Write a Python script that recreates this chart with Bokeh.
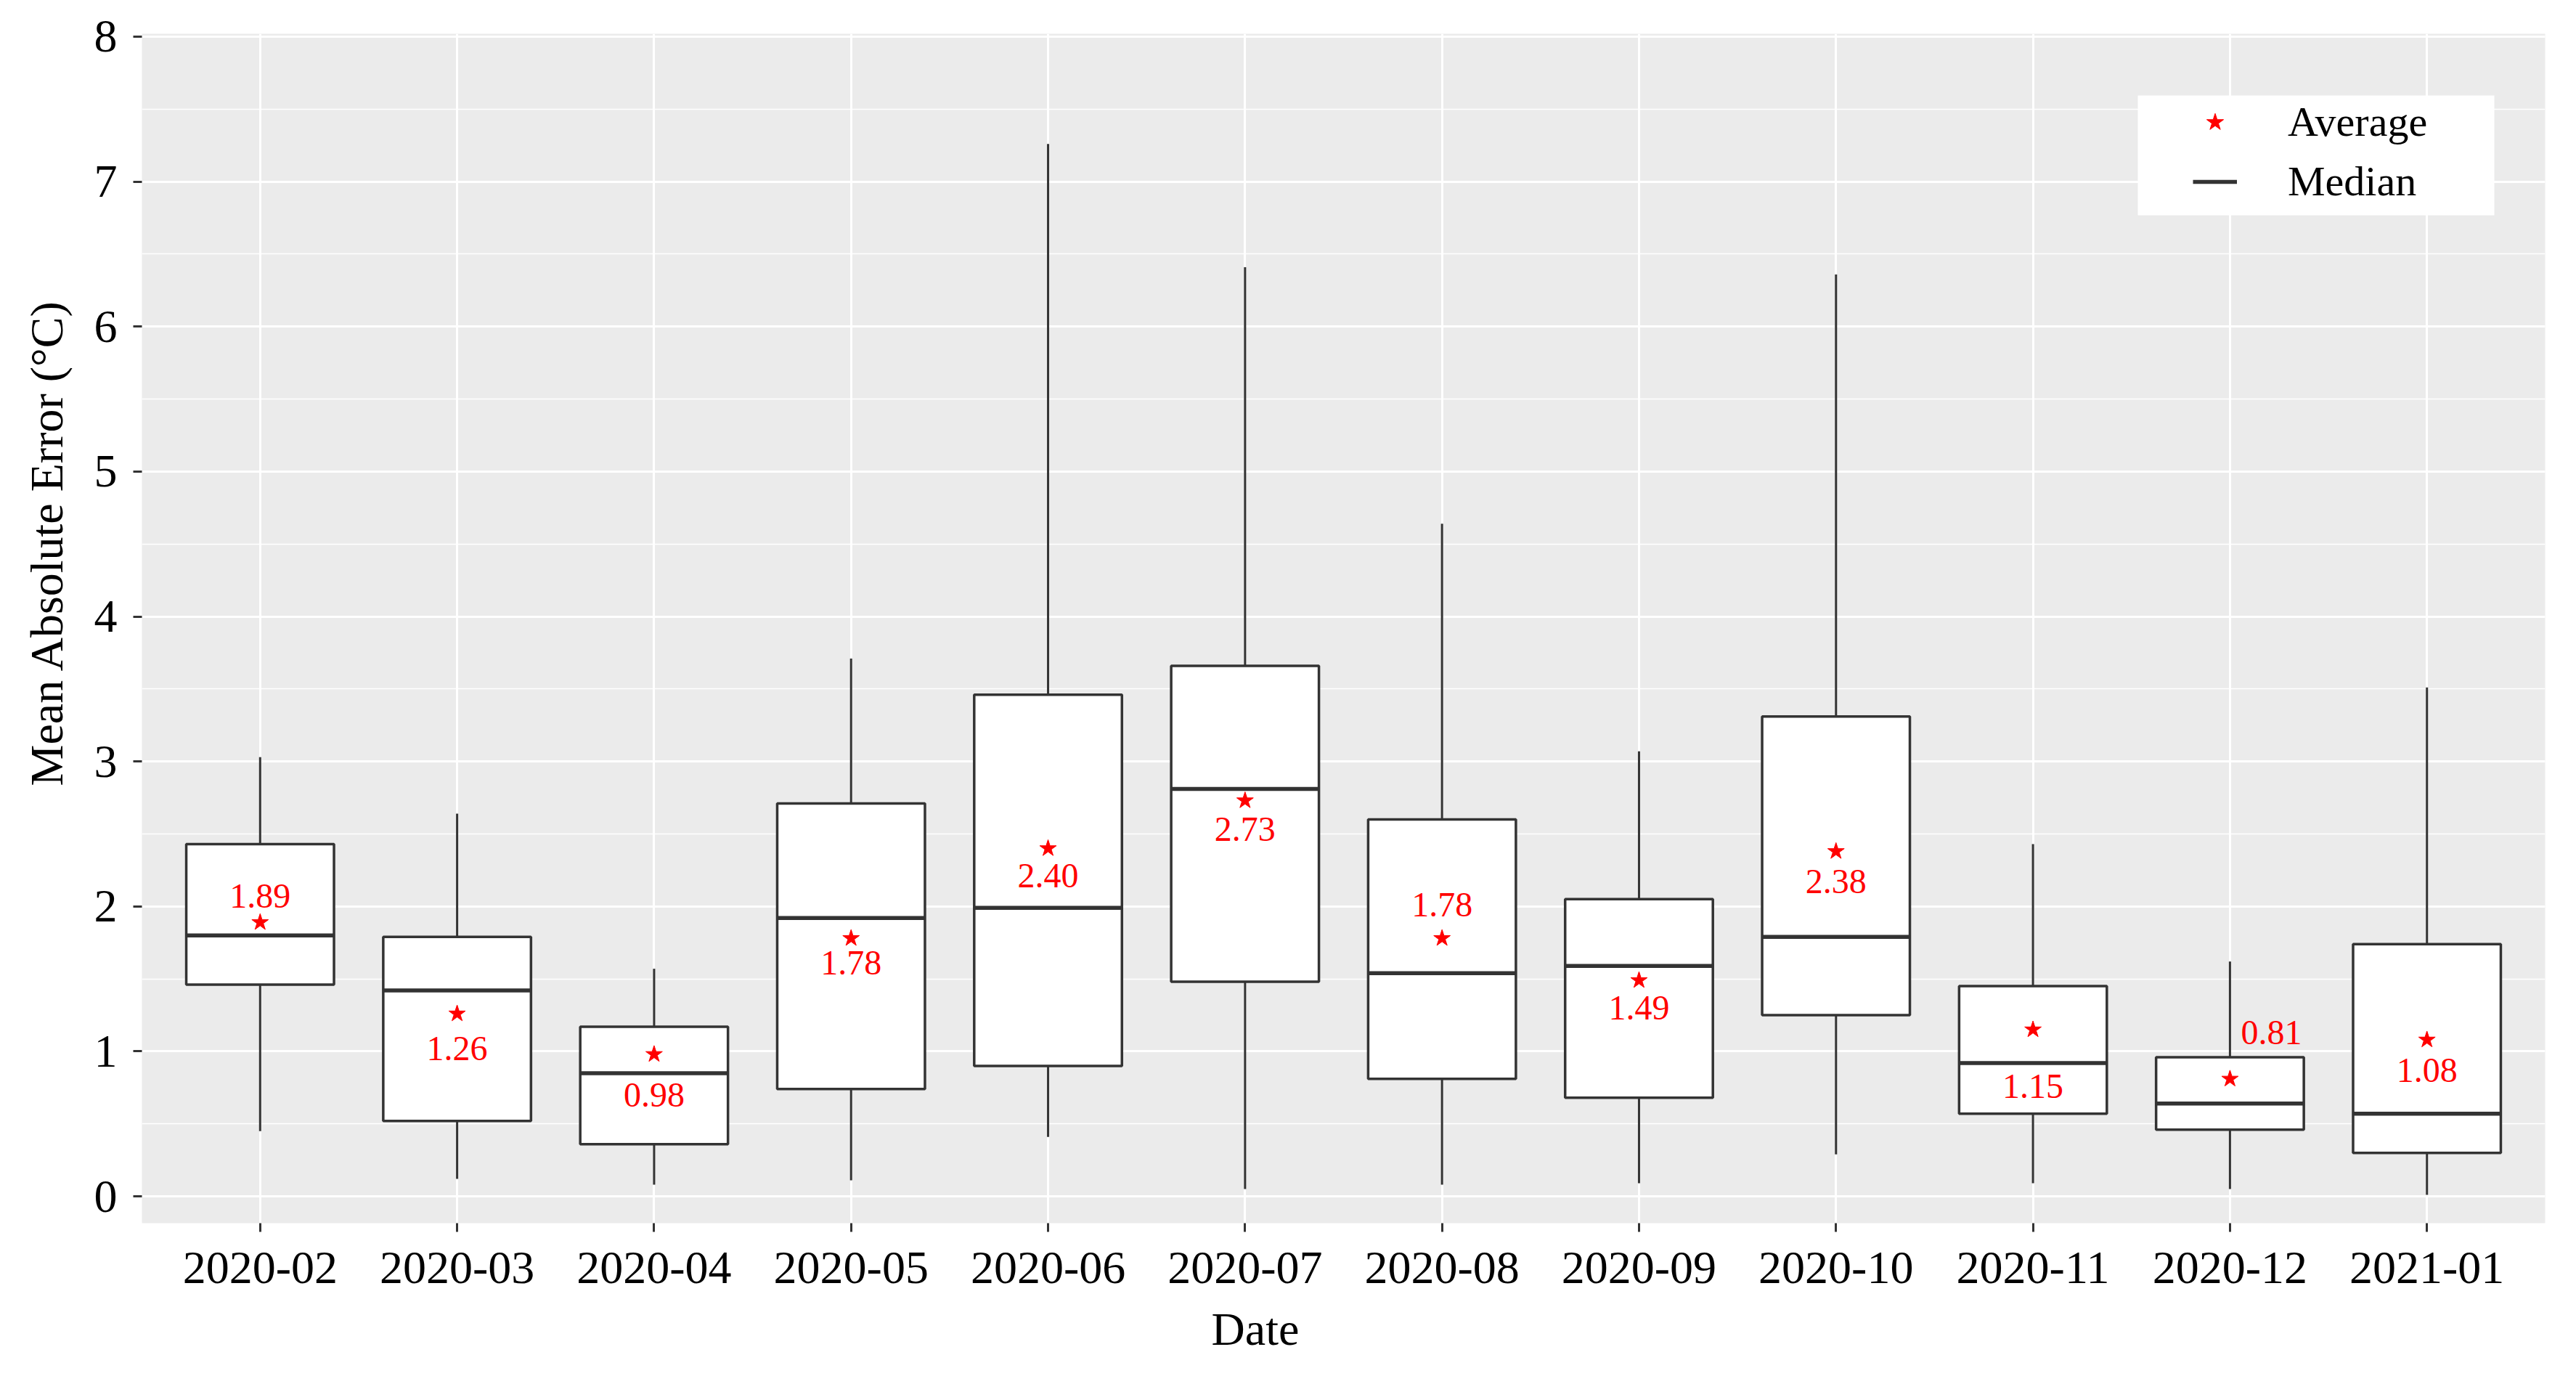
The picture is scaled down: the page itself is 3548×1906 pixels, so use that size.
import numpy as np
from bokeh.plotting import figure
from bokeh.models import (ColumnDataSource, Range1d, FixedTicker, SingleIntervalTicker,
                          Legend, LegendItem, Title, BoxAnnotation)
from bokeh.core.properties import value
from bokeh.embed import file_html
from bokeh.resources import INLINE

# ---- data ----
months = ["2020-02", "2020-03", "2020-04", "2020-05", "2020-06", "2020-07",
          "2020-08", "2020-09", "2020-10", "2020-11", "2020-12", "2021-01"]
whisker_low = [0.45, 0.12, 0.08, 0.11, 0.41, 0.05, 0.08, 0.09, 0.29, 0.09, 0.05, 0.01]
q1 = [1.46, 0.52, 0.36, 0.74, 0.90, 1.48, 0.81, 0.68, 1.25, 0.57, 0.46, 0.30]
median = [1.80, 1.42, 0.85, 1.92, 1.99, 2.81, 1.54, 1.59, 1.79, 0.92, 0.64, 0.57]
q3 = [2.43, 1.79, 1.17, 2.71, 3.46, 3.66, 2.60, 2.05, 3.31, 1.45, 0.96, 1.74]
whisker_high = [3.03, 2.64, 1.57, 3.71, 7.26, 6.41, 4.64, 3.07, 6.36, 2.43, 1.62, 3.51]
mean = [1.89, 1.26, 0.98, 1.78, 2.40, 2.73, 1.78, 1.49, 2.38, 1.15, 0.81, 1.08]
# where each mean label sits (data units)
label_y = [2.07, 1.02, 0.70, 1.61, 2.21, 2.53, 2.01, 1.30, 2.17, 0.76, 1.13, 0.87]
label_dx = [0, 0, 0, 0, 0, 0, 0, 0, 0, 0, 0.21, 0]

BOX_W = 0.75
pos = np.arange(1, len(months) + 1)

src = ColumnDataSource(dict(
    x=pos, x0=pos - BOX_W / 2, x1=pos + BOX_W / 2,
    lo=whisker_low, q1=q1, med=median, q3=q3, hi=whisker_high,
    mean=mean, ly=label_y, lx=pos + np.array(label_dx),
    lab=["%.2f" % m for m in mean],
))

FONT = "Liberation Serif"
DARK = "#333333"
X0, X1, Y0, Y1 = 0.4, 12.6, -0.185, 8.02

p = figure(width=3532, height=1890, output_backend="svg", toolbar_location=None,
           x_range=Range1d(X0, X1), y_range=Range1d(Y0, Y1),
           min_border_left=193, min_border_right=27, min_border_top=46,
           min_border_bottom=206)
p.background_fill_color = "#EBEBEB"
p.border_fill_color = "white"
p.outline_line_color = None

# grid
p.xgrid.grid_line_color = "white"
p.xgrid.grid_line_width = 3
p.ygrid.grid_line_color = "white"
p.ygrid.grid_line_width = 3
p.ygrid.minor_grid_line_color = "white"
p.ygrid.minor_grid_line_width = 1.5

# axes
p.xaxis.ticker = FixedTicker(ticks=list(pos), minor_ticks=[])
p.xaxis.major_label_overrides = {int(i): m for i, m in zip(pos, months)}
p.yaxis.ticker = SingleIntervalTicker(interval=1, num_minor_ticks=2)
for ax in (p.xaxis[0], p.yaxis[0]):
    ax.axis_line_color = None
    ax.major_tick_line_color = DARK
    ax.major_tick_line_width = 3
    ax.major_tick_in = 0
    ax.major_tick_out = 12
    ax.minor_tick_line_color = None
    ax.major_label_text_font = FONT
    ax.major_label_text_font_size = "64px"
    ax.major_label_text_color = "black"
p.xaxis.major_label_standoff = 28
p.yaxis.major_label_standoff = 22

# axis titles (slightly off-centre, as in the reference)
p.add_layout(Title(text="Mean Absolute Error (°C)", align="left", offset=602,
                   standoff=53, text_font=FONT, text_font_size="64px",
                   text_font_style="normal", text_color="black"), "left")
p.add_layout(Title(text="Date", align="left", offset=1473, standoff=46,
                   text_font=FONT, text_font_size="64px",
                   text_font_style="normal", text_color="black"), "below")

# whiskers
p.segment(x0="x", y0="q3", x1="x", y1="hi", source=src, line_color=DARK, line_width=3)
p.segment(x0="x", y0="lo", x1="x", y1="q1", source=src, line_color=DARK, line_width=3)
# boxes
p.vbar(x="x", width=BOX_W, bottom="q1", top="q3", source=src,
       fill_color="white", line_color=DARK, line_width=3.5)
# medians
med_r = p.segment(x0="x0", y0="med", x1="x1", y1="med", source=src,
                  line_color=DARK, line_width=5.5)
# means
star_r = p.scatter(x="x", y="mean", source=src, marker="star", size=24,
                   fill_color="red", line_color="red")
p.text(x="lx", y="ly", text="lab", source=src, text_font=value(FONT),
       text_font_size="48px", text_color="red", text_align="center",
       text_baseline="middle")

# legend background (screen units, relative to the plot frame)
p.add_layout(BoxAnnotation(left=2749, right=3240, bottom=1388, top=1553,
                           left_units="screen", right_units="screen",
                           top_units="screen", bottom_units="screen",
                           fill_color="white", fill_alpha=1.0, line_color=None,
                           level="annotation"))

legend = Legend(items=[LegendItem(label="Average", renderers=[star_r]),
                       LegendItem(label="Median", renderers=[med_r])],
                location=(2825, 1401))
legend.label_text_font = FONT
legend.label_text_font_size = "58px"
legend.label_text_color = "black"
legend.glyph_width = 61
legend.glyph_height = 64
legend.label_height = 64
legend.label_standoff = 70
legend.spacing = 15
legend.padding = 12
legend.margin = 0
legend.border_line_color = None
legend.background_fill_alpha = 0.0
p.add_layout(legend)

open("out.html", "w").write(file_html(p, INLINE))
